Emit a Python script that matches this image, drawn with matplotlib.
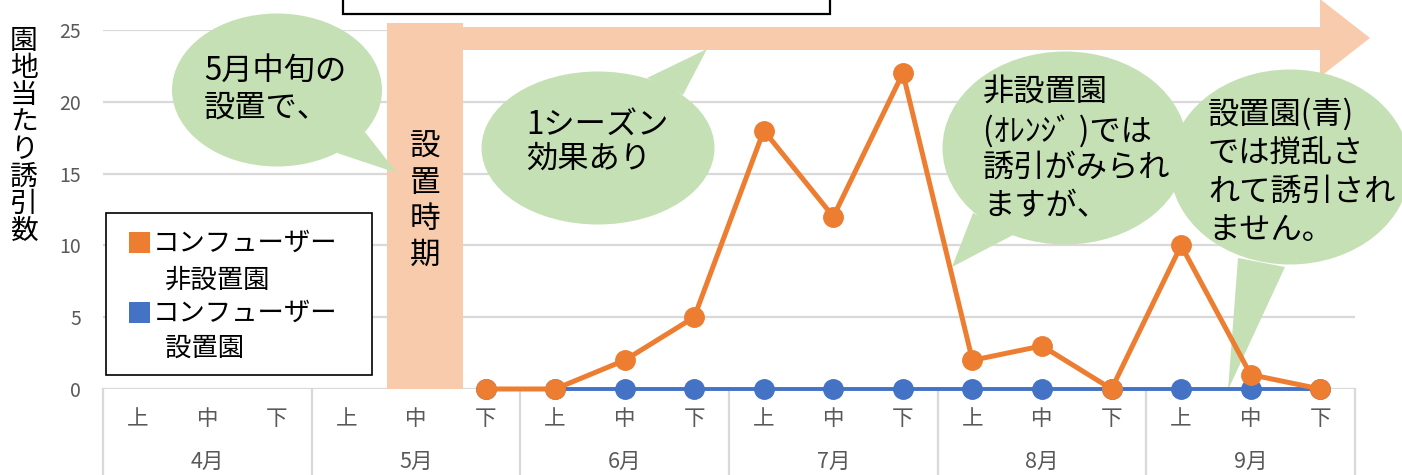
import numpy as np
import matplotlib
matplotlib.use('Agg')
import matplotlib.pyplot as plt
import matplotlib.transforms as mtransforms
from matplotlib.patches import Ellipse, Polygon, Rectangle

plt.rcParams['font.family'] = ['Noto Sans CJK JP', 'DejaVu Sans']

# データ（旬ごとの園地当たり誘引数）
months = ['4月', '5月', '6月', '7月', '8月', '9月']
periods = ['上', '中', '下']
non_installed = [np.nan, np.nan, np.nan, np.nan, np.nan,
                 0, 0, 2, 5, 18, 12, 22, 2, 3, 0, 10, 1, 0]
installed = [np.nan, np.nan, np.nan, np.nan, np.nan,
             0, 0, 0, 0, 0, 0, 0, 0, 0, 0, 0, 0, 0]
yticks = [0, 5, 10, 15, 20, 25]

ORANGE = '#ED7D31'
BLUE = '#4472C4'
PEACH = '#F8CBAD'
GREEN = '#C5E0B4'
GRID = '#D9D9D9'
GRAY = '#595959'

W, H = 1402, 475
fig = plt.figure(figsize=(W / 100, H / 100), dpi=100)
ax = fig.add_axes([103 / W, (H - 389) / H, (1355 - 103) / W, (389 - 30) / H])
ax.patch.set_alpha(0)

# ピクセル座標（左上原点）で注釈を置くための変換
px = mtransforms.Affine2D().scale(1 / W, -1 / H).translate(0, 1) + fig.transFigure

x = np.arange(len(months) * len(periods))
ax.plot(x, installed, color=BLUE, lw=2.8, marker='o', ms=14, zorder=3,
        clip_on=False)
ax.plot(x, non_installed, color=ORANGE, lw=3.6, marker='o', ms=14, zorder=4,
        clip_on=False)

ax.set_xlim(-0.5, len(x) - 0.5)
ax.set_ylim(0, 25)
ax.set_yticks(yticks)
ax.set_yticklabels([str(v) for v in yticks])
ax.tick_params(axis='y', length=0, pad=16, labelsize=14, labelcolor=GRAY)
ax.set_xticks([])
ax.yaxis.grid(True, color=GRID, lw=1.6)
ax.set_axisbelow(True)
for s in ax.spines.values():
    s.set_visible(False)

# 2段のカテゴリ軸
xt = ax.get_xaxis_transform()
for i in x:
    ax.text(i, -0.084, periods[i % 3], transform=xt, ha='center', va='center',
            fontsize=15.5, color=GRAY)
for m, name in enumerate(months):
    ax.text(m * 3 + 1, -0.203, name, transform=xt, ha='center', va='center',
            fontsize=15.5, color=GRAY)
for b in np.arange(-0.5, len(x), 3):
    ax.plot([b, b], [0, -0.24], transform=xt, clip_on=False, color=GRID, lw=1.6)

# y軸ラベル（縦書き）
for i, ch in enumerate('園地当たり誘引数'):
    ax.text(24, 41 + i * 27.1, ch, transform=px, ha='center', va='center',
            fontsize=20, color='black')

# 設置時期の帯と矢印
ax.add_patch(Rectangle((387, 23), 76, 366, transform=px, color=PEACH,
                       clip_on=False, zorder=1, lw=0))
ax.add_patch(Polygon([(463, 27), (1320, 27), (1320, -1), (1370, 38),
                      (1320, 77), (1320, 50), (463, 50)], closed=True,
                     transform=px, color=PEACH, clip_on=False, zorder=1, lw=0))
for i, ch in enumerate('設置時期'):
    ax.text(425, 147 + i * 36, ch, transform=px, ha='center', va='center',
            fontsize=22, color='black', zorder=6)

# 上部の枠
ax.add_patch(Rectangle((343, -10), 487, 24, transform=px, facecolor='white',
                       edgecolor='black', lw=1.6, clip_on=False, zorder=1))


def bubble(cx, cy, w, h, tail, lines, tx, ty):
    ax.add_patch(Polygon(tail, closed=True, transform=px, color=GREEN,
                         clip_on=False, zorder=2, lw=0))
    ax.add_patch(Ellipse((cx, cy), w, h, transform=px, color=GREEN,
                         clip_on=False, zorder=2, lw=0))
    for t, yy in zip(lines, ty):
        ax.text(tx, yy, t, transform=px, ha='left', va='center',
                fontsize=22.5, color='black', zorder=6)


bubble(277, 90, 210, 153, [(337, 153), (397, 173), (365, 132)],
       ['5月中旬の', '設置で、'], 204, [71, 108])
bubble(598, 148, 233, 153, [(647, 78), (707, 49), (683, 95)],
       ['1シーズン', '効果あり'], 526, [125, 159])
bubble(1065, 148, 245, 193, [(973, 213), (952, 267), (1013, 235)],
       ['非設置園', '(ｵﾚﾝｼﾞ )では', '誘引がみられ', 'ますが、'], 983,
       [92, 131, 168, 206])
bubble(1290, 167, 240, 195, [(1238, 258), (1228, 390), (1285, 267)],
       ['設置園(青)', 'では撹乱さ', 'れて誘引され', 'ません。'], 1208,
       [114, 153, 192, 230])

# 凡例
ax.add_patch(Rectangle((106, 213), 266, 162, transform=px, facecolor='white',
                       edgecolor='black', lw=1.2, clip_on=False, zorder=5))
legend_rows = [(ORANGE, 'コンフューザー', '非設置園', 243, 280),
               (BLUE, 'コンフューザー', '設置園', 313, 348)]
for col, l1, l2, y1, y2 in legend_rows:
    ax.add_patch(Rectangle((129, y1 - 11), 21, 21, transform=px, color=col,
                           clip_on=False, zorder=6, lw=0))
    ax.text(153, y1, l1, transform=px, ha='left', va='center', fontsize=19,
            zorder=7)
    ax.text(165, y2, l2, transform=px, ha='left', va='center', fontsize=19,
            zorder=7)

fig.savefig('out.png', dpi=100)
